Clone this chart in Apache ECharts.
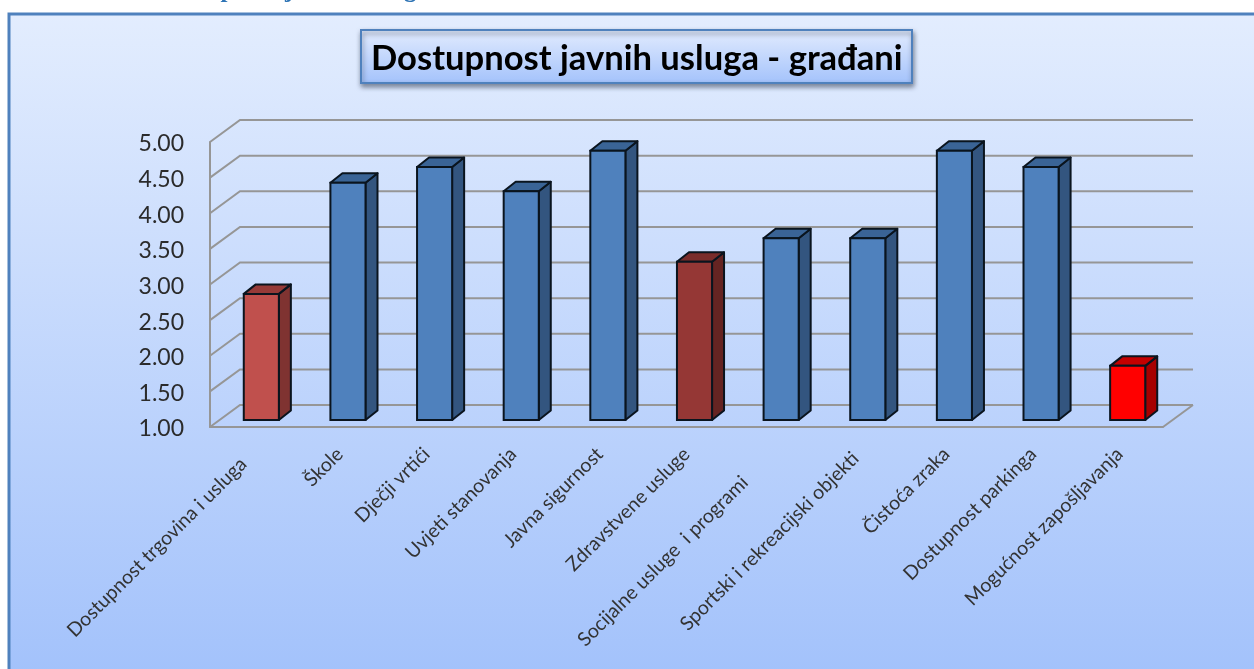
<!DOCTYPE html>
<html>
<head>
<meta charset="utf-8">
<style>html,body{margin:0;padding:0;background:#fff}#c{width:1254px;height:669px}</style>
<script src="https://cdn.jsdelivr.net/npm/echarts@6/dist/echarts.min.js"></script>
</head>
<body>
<div id="c"></div>
<script>
const categories = ['Dostupnost trgovina i usluga','Škole','Dječji vrtići','Uvjeti stanovanja','Javna sigurnost','Zdravstvene usluge','Socijalne usluge  i programi','Sportski i rekreacijski objekti','Čistoća zraka','Dostupnost parkinga','Mogućnost zapošljavanja'];
const values = [2.77,4.33,4.55,4.21,4.78,3.22,3.55,3.55,4.78,4.55,1.76];
const gridTicks = [1,1.5,2,2.5,3,3.5,4,4.5,5];
const frontColors = ['#c0504d','#4f81bd','#4f81bd','#4f81bd','#4f81bd','#953735','#4f81bd','#4f81bd','#4f81bd','#4f81bd','#ff0000'];
const topColors   = ['#963a38','#3a6496','#3a6496','#3a6496','#3a6496','#7a2c2a','#3a6496','#3a6496','#3a6496','#3a6496','#c40000'];
const sideColors  = ['#7f3331','#33557f','#33557f','#33557f','#33557f','#652422','#33557f','#33557f','#33557f','#33557f','#a60000'];
const labelEndPad = [14,0,0,0,0,0,40,6,0,0,0];

const WALL = [30, -22], BAR_POS = [8, -7], BAR_DEPTH = [12, -9.5];
const GREY = '#969696';
const chart = echarts.init(document.getElementById('c'));

function renderWall(params, api) {
  const cs = params.coordSys;
  const y = api.coord([0, api.value(0)])[1];
  const x0 = cs.x, x1 = cs.x + cs.width;
  const children = [{
    type: 'polyline',
    shape: { points: [[x0, y], [x0 + WALL[0], y + WALL[1]], [x1 + WALL[0], y + WALL[1]]] },
    style: { fill: 'none', stroke: GREY, lineWidth: 2 }
  }];
  if (params.dataIndex === 0) {
    children.push({
      type: 'line',
      shape: { x1: x1, y1: y, x2: x1 + WALL[0], y2: y + WALL[1] },
      style: { stroke: GREY, lineWidth: 2 }
    });
  }
  return { type: 'group', children };
}

function renderBar(params, api) {
  const i = api.value(0), v = api.value(1);
  const w = api.size([1, 0])[0] * 0.405;
  const t = api.coord([i, v]), b = api.coord([i, 1]);
  const l = t[0] + BAR_POS[0] - w / 2, r = l + w;
  const ty = t[1] + BAR_POS[1], by = b[1] + BAR_POS[1];
  const dx = BAR_DEPTH[0], dy = BAR_DEPTH[1];
  const stroke = '#0a141e', lw = 2;
  return { type: 'group', children: [
    { type: 'polygon', shape: { points: [[r, ty], [r + dx, ty + dy], [r + dx, by + dy], [r, by]] },
      style: { fill: sideColors[i], stroke, lineWidth: lw, lineJoin: 'round' } },
    { type: 'polygon', shape: { points: [[l, ty], [l + dx, ty + dy], [r + dx, ty + dy], [r, ty]] },
      style: { fill: topColors[i], stroke, lineWidth: lw, lineJoin: 'round' } },
    { type: 'rect', shape: { x: l, y: ty, width: w, height: by - ty },
      style: { fill: frontColors[i], stroke, lineWidth: lw } }
  ]};
}

chart.setOption({
  animation: false,
  backgroundColor: '#ffffff',
  title: {
    text: 'Dostupnost javnih usluga - građani',
    left: 361, top: 30,
    padding: [11, 10, 7, 10],
    textStyle: { fontFamily: 'Lato', fontWeight: 'bold', fontSize: 34.6, color: '#000' },
    backgroundColor: new echarts.graphic.LinearGradient(0, 0, 0, 1, [
      { offset: 0, color: '#e3ecfe' }, { offset: 1, color: '#a3c2fb' }]),
    borderColor: '#4f81bd', borderWidth: 2,
    shadowColor: 'rgba(40,50,70,0.55)', shadowBlur: 5, shadowOffsetX: 1, shadowOffsetY: 3
  },
  graphic: [
    { type: 'rect', z: -10, silent: true,
      shape: { x: 9, y: 14, width: 1300, height: 700 },
      style: {
        fill: new echarts.graphic.LinearGradient(0, 0, 0, 1, [
          { offset: 0, color: '#e3edfe' }, { offset: 0.94, color: '#a3c2fb' }, { offset: 1, color: '#a3c2fb' }]),
        stroke: '#4f81bd', lineWidth: 3 } },
    { type: 'text', z: -5, silent: true, x: 158, y: 3,
      style: { text: 'Dostupnost javnih usluga', fontFamily: 'Liberation Serif', fontWeight: 'bold', fontSize: 25,
        fill: '#2e74b5', align: 'left', verticalAlign: 'bottom' } }
  ],
  grid: { left: 210, top: 142, width: 953, height: 285, containLabel: false },
  xAxis: {
    type: 'category',
    data: categories.map((c, i) => ({ value: c, textStyle: { padding: [0, labelEndPad[i], 0, 0] } })),
    axisLine: { show: true, lineStyle: { color: GREY, width: 2 } },
    axisTick: { show: false },
    splitLine: { show: false },
    axisLabel: { interval: 0, rotate: 45, margin: 24, fontFamily: 'Lato', fontSize: 19.5, color: '#333' }
  },
  yAxis: {
    type: 'value', min: 1, max: 5, interval: 0.5,
    axisLine: { show: true, lineStyle: { color: GREY, width: 2 } },
    axisTick: { show: false },
    splitLine: { show: false },
    axisLabel: { margin: 26, fontFamily: 'Lato', fontSize: 23, color: '#2b2b2b', verticalAlign: 'top', lineHeight: 4, formatter: v => v.toFixed(2) }
  },
  series: [
    { type: 'custom', name: 'wall', coordinateSystem: 'cartesian2d', silent: true, z: 1,
      encode: { y: 0 }, data: gridTicks.map(v => [v]), renderItem: renderWall, clip: false },
    { type: 'custom', name: 'Dostupnost', coordinateSystem: 'cartesian2d', z: 3,
      encode: { x: 0, y: 1 }, data: values.map((v, i) => [i, v]), renderItem: renderBar, clip: false }
  ]
});
</script>
</body>
</html>
